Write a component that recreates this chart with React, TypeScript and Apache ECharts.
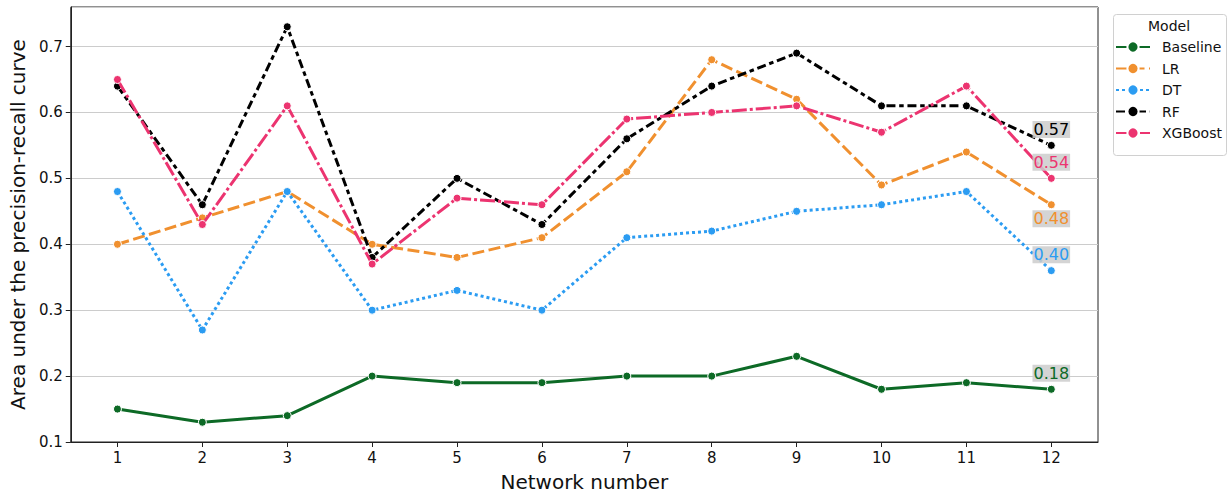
import React, { useEffect, useRef } from "react";
import * as echarts from "echarts";

const networks = [1, 2, 3, 4, 5, 6, 7, 8, 9, 10, 11, 12];
const yTicks = [0.1, 0.2, 0.3, 0.4, 0.5, 0.6, 0.7];
const modelNames = ["Baseline", "LR", "DT", "RF", "XGBoost"];
const baseline = [0.15, 0.13, 0.14, 0.2, 0.19, 0.19, 0.2, 0.2, 0.23, 0.18, 0.19, 0.18];
const lr = [0.4, 0.44, 0.48, 0.4, 0.38, 0.41, 0.51, 0.68, 0.62, 0.49, 0.54, 0.46];
const dt = [0.48, 0.27, 0.48, 0.3, 0.33, 0.3, 0.41, 0.42, 0.45, 0.46, 0.48, 0.36];
const rf = [0.64, 0.46, 0.73, 0.38, 0.5, 0.43, 0.56, 0.64, 0.69, 0.61, 0.61, 0.55];
const xgb = [0.65, 0.43, 0.61, 0.37, 0.47, 0.46, 0.59, 0.6, 0.61, 0.57, 0.64, 0.5];

const FONT = "DejaVu Sans";

export default function App() {
  const ref = useRef<HTMLDivElement>(null);
  useEffect(() => {
    if (!ref.current) return;
    const chart = echarts.init(ref.current, null, { renderer: "svg" });
    const values = [baseline, lr, dt, rf, xgb];
    const colors = ["#0d6a26", "#f0902f", "#2b9cf2", "#000000", "#ec3470"];
    const dashes: any[] = ["solid", [12, 4.5], [3, 3], [9, 3.75, 4.5, 3.75], [15, 3, 3, 3]];
    const labelOffsets = [-16, 14, -16, -16, -16];
    const series = modelNames.map((name, i) => {
      const d = values[i];
      const mean = d.reduce((a, b) => a + b, 0) / d.length;
      return {
        name,
        type: "line",
        data: networks.map((n, j) => [n, d[j]]),
        symbol: "circle",
        symbolSize: 8,
        z: 2 + i,
        lineStyle: { color: colors[i], width: 3, type: dashes[i] },
        itemStyle: { color: colors[i], borderColor: "#ffffff", borderWidth: 1 },
        markPoint: {
          symbol: "circle",
          symbolSize: 0,
          z: 20,
          data: [{ coord: [networks[networks.length - 1], d[d.length - 1]] }],
          label: {
            show: true,
            position: "inside",
            offset: [0, labelOffsets[i]],
            formatter: mean.toFixed(2),
            color: colors[i],
            fontFamily: FONT,
            fontSize: 16,
            backgroundColor: "rgba(205,205,205,0.85)",
            padding: [1, 1, 0, 1],
          },
        },
      };
    });
    chart.setOption({
      animation: false,
      textStyle: { fontFamily: FONT },
      grid: {
        left: 68,
        top: 7,
        right: 132,
        bottom: 53,
        show: true,
        borderColor: "#222",
        borderWidth: 1,
        backgroundColor: "transparent",
      },
      xAxis: {
        type: "value",
        min: 0.45,
        max: 12.55,
        name: "Network number",
        nameLocation: "middle",
        nameGap: 30,
        nameTextStyle: { fontSize: 20, color: "#111", fontFamily: FONT },
        axisLine: { show: true, lineStyle: { color: "#222" } },
        axisTick: { show: true, customValues: networks, length: 5, lineStyle: { color: "#222" } },
        axisLabel: { customValues: networks, fontSize: 15, color: "#111", margin: 8, fontFamily: FONT },
        splitLine: { show: false },
      },
      yAxis: {
        type: "value",
        min: 0.1,
        max: 0.76,
        interval: 0.1,
        name: "Area under the precision-recall curve",
        nameLocation: "middle",
        nameGap: 42,
        nameTextStyle: { fontSize: 20, color: "#111", fontFamily: FONT },
        axisLine: { show: true, lineStyle: { color: "#222" } },
        axisTick: { show: true, length: 5, lineStyle: { color: "#222" } },
        axisLabel: {
          fontSize: 15,
          color: "#111",
          margin: 8,
          fontFamily: FONT,
          showMaxLabel: false,
          formatter: (v: number) => {
            const t = yTicks.find((x) => Math.abs(x - v) < 1e-6);
            return t !== undefined ? t.toFixed(1) : "";
          },
        },
        splitLine: { show: true, lineStyle: { color: "#cccccc", width: 1 } },
      },
      legend: {
        data: modelNames,
        orient: "vertical",
        left: 1115,
        top: 40,
        itemWidth: 34,
        itemHeight: 14,
        itemGap: 7.5,
        textStyle: { fontSize: 14, color: "#111", fontFamily: FONT, padding: [0, 0, 0, 7] },
        padding: 0,
      },
      graphic: [
        {
          type: "rect",
          left: 1113,
          top: 14,
          shape: { width: 113, height: 141, r: 3 },
          style: { fill: "#ffffff", stroke: "#d0d0d0", lineWidth: 1 },
          z: -1,
        },
        {
          type: "text",
          left: 1148,
          top: 19,
          style: { text: "Model", fontSize: 14, fill: "#111", fontFamily: FONT },
        },
      ],
      series,
    });
    return () => chart.dispose();
  }, []);
  return (
    <div
      ref={ref}
      style={{ position: "fixed", left: 0, top: 0, width: 1230, height: 497, background: "#fff" }}
    />
  );
}
